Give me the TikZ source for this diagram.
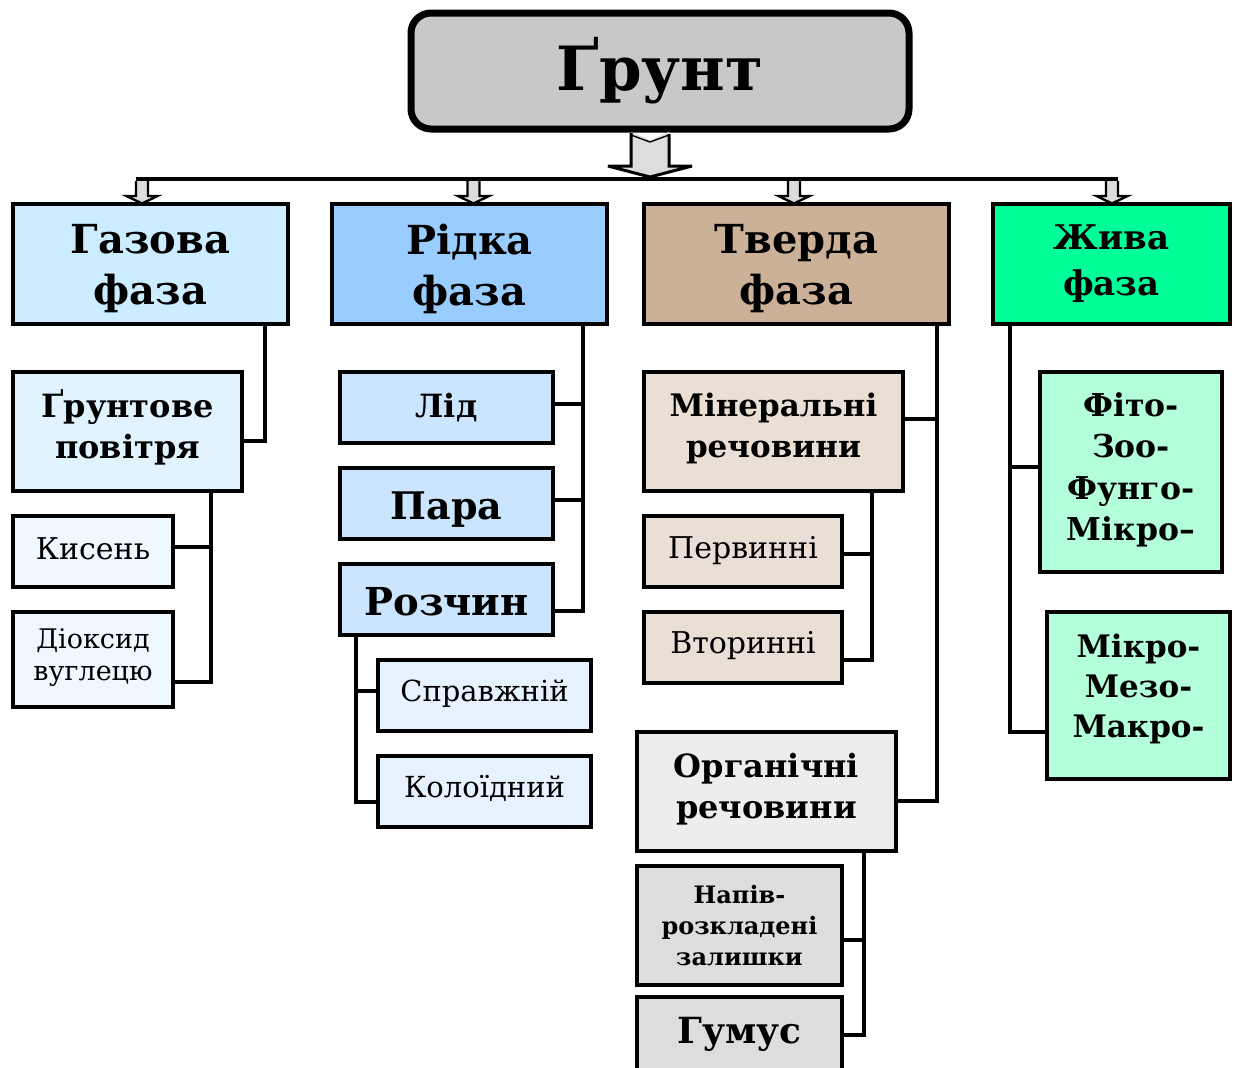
\documentclass[tikz,border=0pt]{standalone}
\usepackage{fontspec}
\setmainfont{DejaVu Serif}
\newcommand\setfs[2]{\fontsize{#1}{#2}\selectfont}
\definecolor{topfill}{HTML}{C8C8C8}
\definecolor{arrowfill}{HTML}{DDDDDD}
\definecolor{gasA}{HTML}{CCECFF}
\definecolor{gasB}{HTML}{E1F3FF}
\definecolor{gasC}{HTML}{F0F8FF}
\definecolor{liqA}{HTML}{99CCFF}
\definecolor{liqB}{HTML}{CCE5FF}
\definecolor{liqC}{HTML}{E6F2FF}
\definecolor{solA}{HTML}{CCB199}
\definecolor{solB}{HTML}{E9DFD5}
\definecolor{orgA}{HTML}{EDEDED}
\definecolor{orgB}{HTML}{DDDDDD}
\definecolor{livA}{HTML}{00FF99}
\definecolor{livB}{HTML}{B3FFDA}
\begin{document}
\begin{tikzpicture}[x=1pt,y=-1pt,
  box/.style={draw=black, line width=3.2pt, rectangle, inner sep=0pt},
  lbl/.style={inner sep=0pt, align=center, text=black},
  conn/.style={draw=black, line width=3.2pt, line join=miter},
  blockarrow/.style={fill=arrowfill, draw=black, line width=2.4pt, line join=miter},
  headfont/.style={font=\setfs{40}{51}\bfseries},
  midfont/.style={font=\setfs{32}{41}\bfseries},
  plainfont/.style={font=\setfs{30}{34}}]
\fill[white] (0,0) rectangle (1235,1068);
\useasboundingbox (0,0) rectangle (1235,1068);

% root
\node[box, line width=7pt, rounded corners=20pt, fill=topfill,
      minimum width=498pt, minimum height=116pt] (root) at (660,71) {};
\node[lbl, font=\setfs{61}{70}\bfseries] (rootT) at (root.center) {Ґрунт};

% bus and arrows
\coordinate (busL) at (136,179);
\coordinate (busR) at (1118,179);
\draw[conn, line width=4.5pt] (busL) -- (busR);
\fill[arrowfill] (631,132) -- (650,140) -- (669,132) -- (669,166) -- (692,166) -- (650,177) -- (608,166) -- (631,166) -- cycle;
\draw[black, line width=3pt, line join=miter, miter limit=3] (root.south -| 631,0) -- (631,166) -- (608,166) -- (650,177) -- (692,166) -- (669,166) -- (669,134);
\draw[black, line width=1.4pt] (631,135) -- (650,142) -- (669,135);

% phases
\node[box, fill=gasA, minimum width=275pt, minimum height=120pt] (gas) at (150.5,264) {};
\node[box, fill=liqA, minimum width=275pt, minimum height=120pt] (liq) at (469.5,264) {};
\node[box, fill=solA, minimum width=305pt, minimum height=120pt] (sol) at (796.5,264) {};
\node[box, fill=livA, minimum width=237pt, minimum height=120pt] (liv) at (1111.5,264) {};
\node[lbl, headfont] (gasT) at ([yshift=-5pt]gas.center) {Газова\\фаза};
\node[lbl, headfont] (liqT) at ([yshift=-5pt]liq.center) {Рідка\\фаза};
\node[lbl, headfont] (solT) at ([yshift=-5pt]sol.center) {Тверда\\фаза};
\node[lbl, font=\setfs{34}{46}\bfseries] (livT) at (liv.center) {Жива\\фаза};
\foreach \n/\x in {gas/142, liq/473.5, sol/794, liv/1112}{
  \draw[blockarrow] (\x-6,181) -- (\x-6,196) -- (\x-15.5,196) -- (\x,203.5) -- (\x+15.5,196) -- (\x+6,196) -- (\x+6,181);
}

% gas phase
\node[box, fill=gasB, minimum width=229pt, minimum height=119pt] (air) at (127.5,431.5) {};
\node[box, fill=gasC, minimum width=160pt, minimum height=71pt] (oxy) at (93,551.5) {};
\node[box, fill=gasC, minimum width=160pt, minimum height=95pt] (co2) at (93,659.5) {};
\node[lbl, midfont] (airT) at ([yshift=4pt]air.center) {Ґрунтове\\повітря};
\node[lbl, plainfont] (oxyT) at ([yshift=3pt]oxy.center) {Кисень};
\node[lbl, font=\setfs{27}{32}] (co2T) at ([yshift=2pt]co2.center) {Діоксид\\вуглецю};
\draw[conn] (gas.south -| 265,0) |- (air.east |- 0,441);
\draw[conn] (air.south -| 211,0) |- (co2.east |- 0,682);
\draw[conn] (oxy.east |- 0,547) -- (211,547);

% liquid phase
\node[box, fill=liqB, minimum width=213pt, minimum height=71pt] (ice) at (446.5,407.5) {};
\node[box, fill=liqB, minimum width=213pt, minimum height=71pt] (vap) at (446.5,503.5) {};
\node[box, fill=liqB, minimum width=213pt, minimum height=71pt] (solut) at (446.5,599.5) {};
\node[box, fill=liqC, minimum width=213pt, minimum height=71pt] (truesol) at (484.5,695.5) {};
\node[box, fill=liqC, minimum width=213pt, minimum height=71pt] (colsol) at (484.5,791.5) {};
\node[lbl, font=\setfs{32}{40}\bfseries] (iceT) at (ice.center) {Лід};
\node[lbl, font=\setfs{38}{46}\bfseries] (vapT) at ([yshift=-6pt]vap.center) {Пара};
\node[lbl, font=\setfs{38.5}{46}\bfseries] (solutT) at ([yshift=-2pt]solut.center) {Розчин};
\node[lbl, font=\setfs{29}{34}] (truesolT) at ([yshift=2pt]truesol.center) {Справжній};
\node[lbl, font=\setfs{29}{34}] (colsolT) at ([yshift=3pt]colsol.center) {Колоїдний};
\draw[conn] (liq.south -| 583,0) |- (solut.east |- 0,611);
\draw[conn] (ice.east |- 0,404) -- (583,404);
\draw[conn] (vap.east |- 0,500) -- (583,500);
\draw[conn] (solut.south -| 356,0) |- (colsol.west |- 0,802);
\draw[conn] (truesol.west |- 0,691) -- (356,691);

% solid phase
\node[box, fill=solB, minimum width=259pt, minimum height=119pt] (mineral) at (773.5,431.5) {};
\node[box, fill=solB, minimum width=198pt, minimum height=71pt] (prim) at (743,551.5) {};
\node[box, fill=solB, minimum width=198pt, minimum height=71pt] (secd) at (743,647.5) {};
\node[box, fill=orgA, minimum width=259pt, minimum height=119pt] (organic) at (766.5,791.5) {};
\node[box, fill=orgB, minimum width=205pt, minimum height=119pt] (semi) at (739.5,925.5) {};
\node[box, fill=orgB, minimum width=205pt, minimum height=75pt] (humus) at (739.5,1034.5) {};
\node[lbl, font=\setfs{31}{41}\bfseries] (mineralT) at ([yshift=3pt]mineral.center) {Мінеральні\\речовини};
\node[lbl, plainfont] (primT) at ([yshift=1pt]prim.center) {Первинні};
\node[lbl, plainfont] (secdT) at ([yshift=2pt]secd.center) {Вторинні};
\node[lbl, font=\setfs{32}{41}\bfseries] (organicT) at ([yshift=2pt]organic.center) {Органічні\\речовини};
\node[lbl, font=\setfs{24}{31}\bfseries] (semiT) at (semi.center) {Напів-\\розкладені\\залишки};
\node[lbl, font=\setfs{36}{44}\bfseries] (humusT) at (humus.center) {Гумус};
\draw[conn] (sol.south -| 937,0) |- (organic.east |- 0,801);
\draw[conn] (mineral.east |- 0,419) -- (937,419);
\draw[conn] (mineral.south -| 872,0) |- (secd.east |- 0,660);
\draw[conn] (prim.east |- 0,554) -- (872,554);
\draw[conn] (organic.south -| 864,0) |- (humus.east |- 0,1035);
\draw[conn] (semi.east |- 0,940) -- (864,940);

% living phase
\node[box, fill=livB, minimum width=182pt, minimum height=200pt] (bio) at (1131,472) {};
\node[box, fill=livB, minimum width=183pt, minimum height=167pt] (sizes) at (1138.5,695.5) {};
\node[lbl, font=\setfs{31.5}{41.5}\bfseries] (bioT) at ([yshift=2pt]bio.center) {Фіто-\\Зоо-\\Фунго-\\Мікро–};
\node[lbl, font=\setfs{31}{40}\bfseries] (sizesT) at ([yshift=7pt]sizes.center) {Мікро-\\Мезо-\\Макро-};
\draw[conn] (liv.south -| 1010,0) |- (sizes.west |- 0,732);
\draw[conn] (bio.west |- 0,467) -- (1010,467);
\end{tikzpicture}
\end{document}
